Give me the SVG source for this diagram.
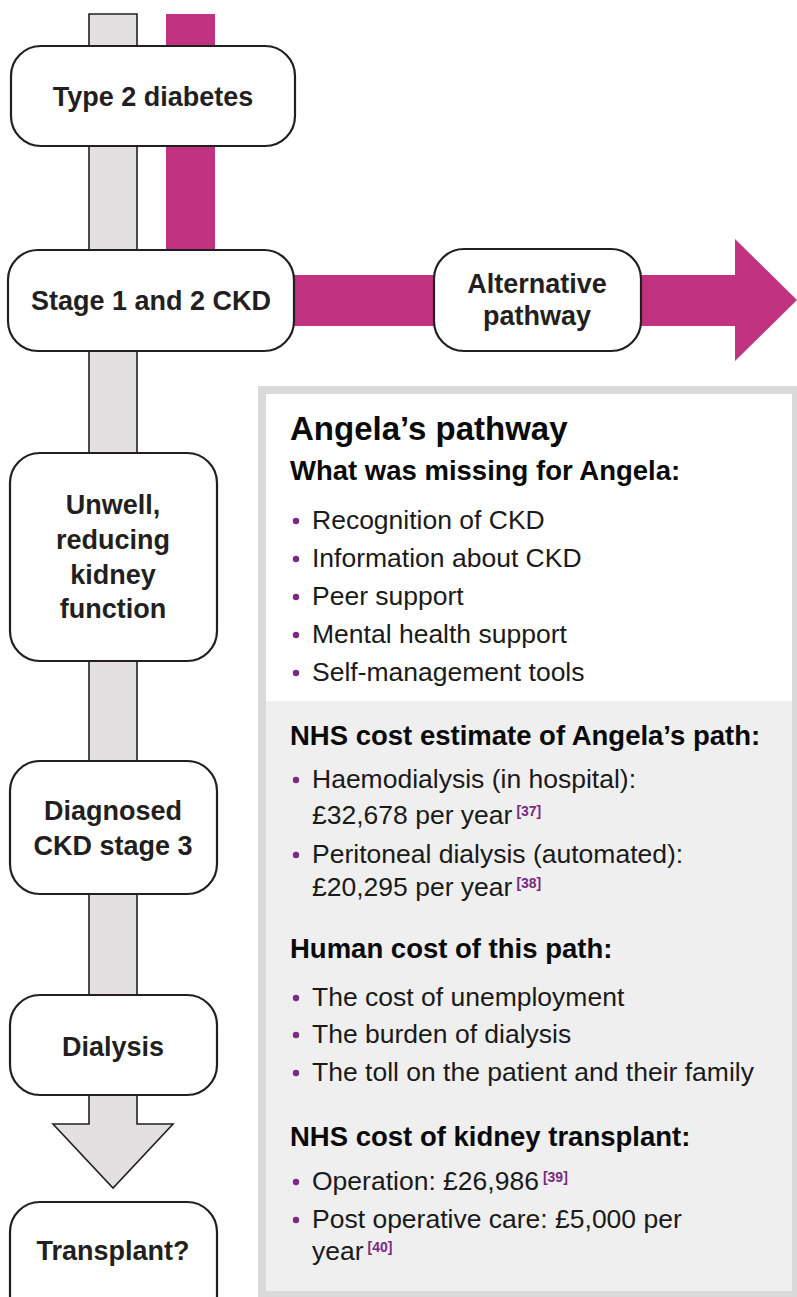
<svg xmlns="http://www.w3.org/2000/svg" width="797" height="1297" viewBox="0 0 797 1297">
  <style>
    .box { fill: #ffffff; stroke: #231f20; stroke-width: 2.2; }
    .nt { font-family: "Liberation Sans", Arial, sans-serif; font-weight: bold; font-size: 27px; fill: #231f20; text-anchor: middle; }
    .h1 { font-family: "Liberation Sans", Arial, sans-serif; font-weight: bold; font-size: 33px; fill: #0a0a0a; }
    .h2 { font-family: "Liberation Sans", Arial, sans-serif; font-weight: bold; font-size: 27.5px; fill: #0a0a0a; }
    .tx { font-family: "Liberation Sans", Arial, sans-serif; font-size: 26.5px; fill: #1a1a1a; }
    .ref { font-family: "Liberation Sans", Arial, sans-serif; font-weight: bold; font-size: 14px; fill: #7a2a82; }
    .dot { fill: #7a2a82; }
  </style>

  <rect x="0" y="0" width="797" height="1297" fill="#ffffff"/>

  <g id="connectors">
    <polygon id="main-track" points="89,14 137,14 137,1124 173,1124 113,1188 53,1124 89,1124" fill="#e2e0e1" stroke="#231f20" stroke-width="1.6" stroke-linejoin="miter"/>
    <polygon id="alt-track" points="166,14 215,14 215,275 735,275 735,239 797,300 735,361 735,326 166,326" fill="#c13281"/>
  </g>

  <g id="panel">
    <rect x="262" y="390" width="534" height="905" fill="#efefef" stroke="#dadada" stroke-width="8"/>
    <rect x="266" y="394" width="526" height="307" fill="#ffffff"/>
    <text class="h1" x="290" y="440">Angela’s pathway</text>
    <text class="h2" x="290" y="480">What was missing for Angela:</text>
    <circle class="dot" cx="296" cy="521" r="3.2"/>
    <text class="tx" x="312" y="529">Recognition of CKD</text>
    <circle class="dot" cx="296" cy="559" r="3.2"/>
    <text class="tx" x="312" y="567">Information about CKD</text>
    <circle class="dot" cx="296" cy="597" r="3.2"/>
    <text class="tx" x="312" y="605">Peer support</text>
    <circle class="dot" cx="296" cy="635" r="3.2"/>
    <text class="tx" x="312" y="643">Mental health support</text>
    <circle class="dot" cx="296" cy="673" r="3.2"/>
    <text class="tx" x="312" y="681">Self-management tools</text>

    <text class="h2" x="290" y="745">NHS cost estimate of Angela’s path:</text>
    <circle class="dot" cx="296" cy="780" r="3.2"/>
    <text class="tx" x="312" y="788">Haemodialysis (in hospital):</text>
    <text class="tx" x="312" y="824">£32,678 per year<tspan class="ref" dx="4" dy="-8">[37]</tspan></text>
    <circle class="dot" cx="296" cy="855" r="3.2"/>
    <text class="tx" x="312" y="863">Peritoneal dialysis (automated):</text>
    <text class="tx" x="312" y="896">£20,295 per year<tspan class="ref" dx="4" dy="-8">[38]</tspan></text>

    <text class="h2" x="290" y="958">Human cost of this path:</text>
    <circle class="dot" cx="296" cy="998" r="3.2"/>
    <text class="tx" x="312" y="1006">The cost of unemployment</text>
    <circle class="dot" cx="296" cy="1035" r="3.2"/>
    <text class="tx" x="312" y="1043">The burden of dialysis</text>
    <circle class="dot" cx="296" cy="1073" r="3.2"/>
    <text class="tx" x="312" y="1081">The toll on the patient and their family</text>

    <text class="h2" x="290" y="1146">NHS cost of kidney transplant:</text>
    <circle class="dot" cx="296" cy="1182" r="3.2"/>
    <text class="tx" x="312" y="1190">Operation: £26,986<tspan class="ref" dx="4" dy="-8">[39]</tspan></text>
    <circle class="dot" cx="296" cy="1220" r="3.2"/>
    <text class="tx" x="312" y="1228">Post operative care: £5,000 per</text>
    <text class="tx" x="312" y="1260">year<tspan class="ref" dx="4" dy="-8">[40]</tspan></text>
  </g>

  <g id="node-type2">
    <rect class="box" x="11" y="46" width="284" height="100" rx="30"/>
    <text class="nt" x="153" y="106">Type 2 diabetes</text>
  </g>
  <g id="node-stage12">
    <rect class="box" x="8" y="250" width="286" height="101" rx="30"/>
    <text class="nt" x="151" y="310">Stage 1 and 2 CKD</text>
  </g>
  <g id="node-alternative">
    <rect class="box" x="434" y="249" width="207" height="102" rx="30"/>
    <text class="nt" x="537" y="293">Alternative</text>
    <text class="nt" x="537" y="325">pathway</text>
  </g>
  <g id="node-unwell">
    <rect class="box" x="10" y="453" width="207" height="208" rx="30"/>
    <text class="nt" x="113" y="514">Unwell,</text>
    <text class="nt" x="113" y="549">reducing</text>
    <text class="nt" x="113" y="584">kidney</text>
    <text class="nt" x="113" y="618">function</text>
  </g>
  <g id="node-diagnosed">
    <rect class="box" x="10" y="761" width="207" height="133" rx="30"/>
    <text class="nt" x="113" y="820">Diagnosed</text>
    <text class="nt" x="113" y="855">CKD stage 3</text>
  </g>
  <g id="node-dialysis">
    <rect class="box" x="10" y="995" width="207" height="100" rx="30"/>
    <text class="nt" x="113" y="1056">Dialysis</text>
  </g>
  <g id="node-transplant">
    <rect class="box" x="10" y="1202" width="207" height="130" rx="30"/>
    <text class="nt" x="113" y="1260">Transplant?</text>
  </g>
</svg>
